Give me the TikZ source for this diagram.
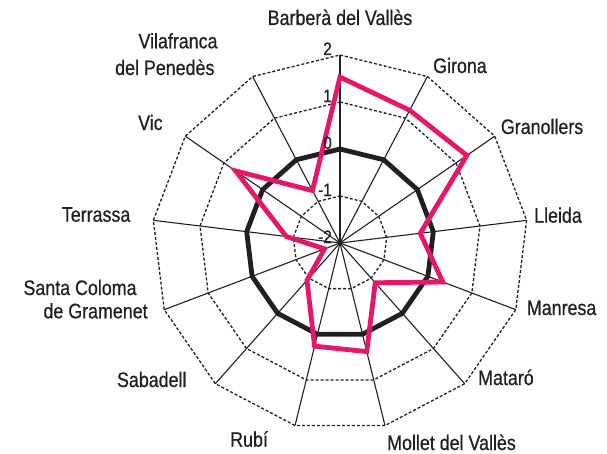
\documentclass[tikz,border=0pt]{standalone}
\usepackage{fontspec}
\setmainfont{Liberation Sans}[FakeStretch=0.85,FakeBold=0.6]
\definecolor{radarpink}{HTML}{E5176B}
\definecolor{inkblack}{HTML}{231F20}
\tikzset{
  spoke/.style={inkblack, line width=1.1pt},
  ring/.style={inkblack, line width=1.3pt, dash pattern=on 3pt off 2pt},
  zeroring/.style={inkblack, line width=4.8pt, line join=round},
  series/.style={radarpink, line width=4.8pt, line join=miter},
  city/.style={font=\fontsize{21}{24}\selectfont, text=inkblack, inner sep=0pt},
  scalelabel/.style={font=\fontsize{18}{20}\selectfont, text=inkblack, inner sep=0pt, anchor=base east}
}

\begin{document}
\begin{tikzpicture}[x=1pt,y=1pt]
\useasboundingbox (-340,-210) rectangle (267,243);
\coordinate (c) at (0,0);
  % axis ends
\foreach \k in {0,...,12}
  \coordinate (v\k) at ({90-\k*360/13}:188);
  % spokes
\foreach \k in {0,...,12}
  \draw[spoke] (c) -- (v\k);
  % dashed rings (-1, 1, 2)
\foreach \r in {47,141,188}
  \draw[ring] (90:\r) \foreach \k in {1,...,12}{ -- ({90-\k*360/13}:\r)} -- cycle;
  % ring at 0
\draw[zeroring] (90:94) \foreach \k in {1,...,12}{ -- ({90-\k*360/13}:94)} -- cycle;
  % data
\foreach \v [count=\k from 0] in {1.53,1.19,1.28,-0.28,0.34,-0.87,0.38,0.26,-0.94,-1.65,-0.85,0.70,-0.74}
  \coordinate (p\k) at ({90-\k*360/13}:{47*(\v+2)});
\draw[series] (p0) -- (p1) -- (p2) -- (p3) -- (p4) -- (p5) -- (p6) -- (p7) -- (p8) -- (p9) -- (p10) -- (p11) -- (p12) -- cycle;
  % scale
\foreach \t/\r in {2/188,1/141,0/94,-1/47,-2/0}
  \node[scalelabel] (val\r) at (-8,\r) {\t};
  % cities
\node[city, anchor=base] (barbera) at (0,218) {Barberà del Vallès};
\node[city, anchor=base west] (girona) at (93,170) {Girona};
\node[city, anchor=base west] (granollers) at (160.7,109) {Granollers};
\node[city, anchor=base west] (lleida) at (194,20.3) {Lleida};
\node[city, anchor=base west] (manresa) at (186.7,-72) {Manresa};
\node[city, anchor=base west] (mataro) at (138,-142) {Mataró};
\node[city, anchor=base west] (mollet) at (47,-207) {Mollet del Vallès};
\node[city, anchor=base west] (rubi) at (-110,-203.7) {Rubí};
\node[city, anchor=base east] (sabadell) at (-153.3,-144) {Sabadell};
\node[city, anchor=base west] (santacoloma) at (-316.7,-52) {Santa Coloma};
\node[city, anchor=base west] (gramenet) at (-296.7,-75.3) {de Gramenet};
\node[city, anchor=base west] (terrassa) at (-278.3,21.3) {Terrassa};
\node[city, anchor=base west] (vic) at (-202,113) {Vic};
\node[city, anchor=base west] (vilafranca) at (-201.7,194.7) {Vilafranca};
\node[city, anchor=base west] (penedes) at (-225,168) {del Penedès};
\end{tikzpicture}
\end{document}
